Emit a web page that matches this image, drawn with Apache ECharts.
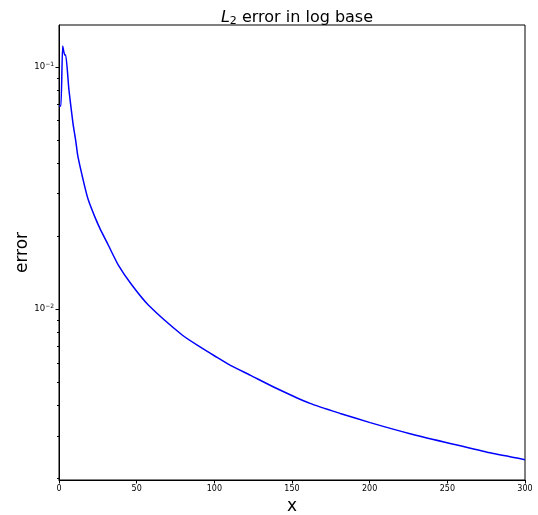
<!DOCTYPE html>
<html>
<head>
<meta charset="utf-8">
<script src="https://cdn.jsdelivr.net/npm/echarts@6/dist/echarts.min.js"></script>
<style>
  html, body { margin: 0; padding: 0; background: #fff; }
  #chart { width: 538px; height: 515px; }
</style>
</head>
<body>
<div id="chart"></div>
<script>
  // x positions and L2 error
  const xs = [0, 1.2, 2.4, 3.7, 4.3, 6.4, 9, 10.7, 12.2, 16.5, 18.9, 23, 26.4, 31.7, 38.2, 46.8, 57.5, 79.5, 90.8, 100.5, 110.1, 123, 140.2, 161.6, 181, 200.3, 226, 251.8, 277.5, 300]
  const errors = [0.069, 0.069, 0.122, 0.112, 0.112, 0.0803, 0.0585, 0.0499, 0.0426, 0.0322, 0.0282, 0.0241, 0.0215, 0.0184, 0.0152, 0.0126, 0.0104, 0.0078, 0.00698, 0.00639, 0.00587, 0.00534, 0.0047, 0.00408, 0.00371, 0.0034, 0.00306, 0.00279, 0.00255, 0.00239]
  const xTicks = [0, 50, 100, 150, 200, 250, 300]
  const majorTicks = [0.01, 0.1]
  const minorTicks = [0.002, 0.003, 0.004, 0.005, 0.006, 0.007, 0.008, 0.009,
    0.02, 0.03, 0.04, 0.05, 0.06, 0.07, 0.08, 0.09]
  const majorExp = { 0.01: '−2', 0.1: '−1' }

  const yMin = 0.00197
  const yMax = 0.149
  const font = 'DejaVu Sans'

  const chart = echarts.init(document.getElementById('chart'))
  const option = {
    animation: false,
    title: {
      text: '{i|L}{s|2}{n| error in log base}',
      left: 292,
      textAlign: 'center',
      top: 4,
      textStyle: {
        fontWeight: 'normal',
        rich: {
          i: { fontFamily: font, fontStyle: 'italic', fontWeight: 'normal', fontSize: 16, color: '#000' },
          s: { fontFamily: font, fontWeight: 'normal', fontSize: 11, color: '#000', padding: [7, 0, 0, 0] },
          n: { fontFamily: font, fontWeight: 'normal', fontSize: 16, color: '#000' }
        }
      }
    },
    grid: {
      left: 59, right: 13, top: 25, bottom: 35,
      outerBoundsMode: 'none',
      show: true, borderColor: '#000', borderWidth: 1
    },
    xAxis: {
      type: 'value',
      min: 0, max: 300, interval: 50,
      name: 'x',
      nameLocation: 'middle',
      nameGap: 16,
      nameTextStyle: { fontFamily: font, fontSize: 17, color: '#000' },
      axisLine: { lineStyle: { color: '#000' } },
      axisTick: { show: true, inside: false, length: 3.5, lineStyle: { color: '#000' }, customValues: xTicks },
      axisLabel: { fontFamily: font, fontSize: 8, color: '#000', margin: 5, customValues: xTicks },
      splitLine: { show: false }
    },
    yAxis: [
      {
        type: 'log',
        logBase: 10,
        min: yMin, max: yMax,
        name: 'error',
        nameLocation: 'middle',
        nameGap: 28,
        nameMoveOverlap: false,
        nameTextStyle: { fontFamily: font, fontSize: 17, color: '#000' },
        axisLine: { show: true, lineStyle: { color: '#000' } },
        axisTick: { show: true, length: 3.5, lineStyle: { color: '#000' }, customValues: majorTicks },
        axisLabel: {
          color: '#000', margin: 5,
          customValues: majorTicks,
          formatter: v => '{b|10}{e|' + (majorExp[v] || '') + '}',
          rich: {
            b: { fontFamily: font, fontSize: 8.5, color: '#000' },
            e: { fontFamily: font, fontSize: 6, color: '#000', padding: [0, 0, 5, 0] }
          }
        },
        splitLine: { show: false }
      },
      {
        type: 'log',
        logBase: 10,
        min: yMin, max: yMax,
        position: 'left',
        axisLine: { show: false },
        axisTick: { show: true, length: 2, lineStyle: { color: '#000' }, customValues: minorTicks },
        axisLabel: { show: false },
        splitLine: { show: false }
      }
    ],
    series: [
      {
        type: 'line',
        data: xs.map((x, i) => [x, errors[i]]),
        showSymbol: false,
        smooth: 0.2,
        lineStyle: { color: '#0000ff', width: 1.5 },
        itemStyle: { color: '#0000ff' }
      }
    ]
  }
  chart.setOption(option)
</script>
</body>
</html>
